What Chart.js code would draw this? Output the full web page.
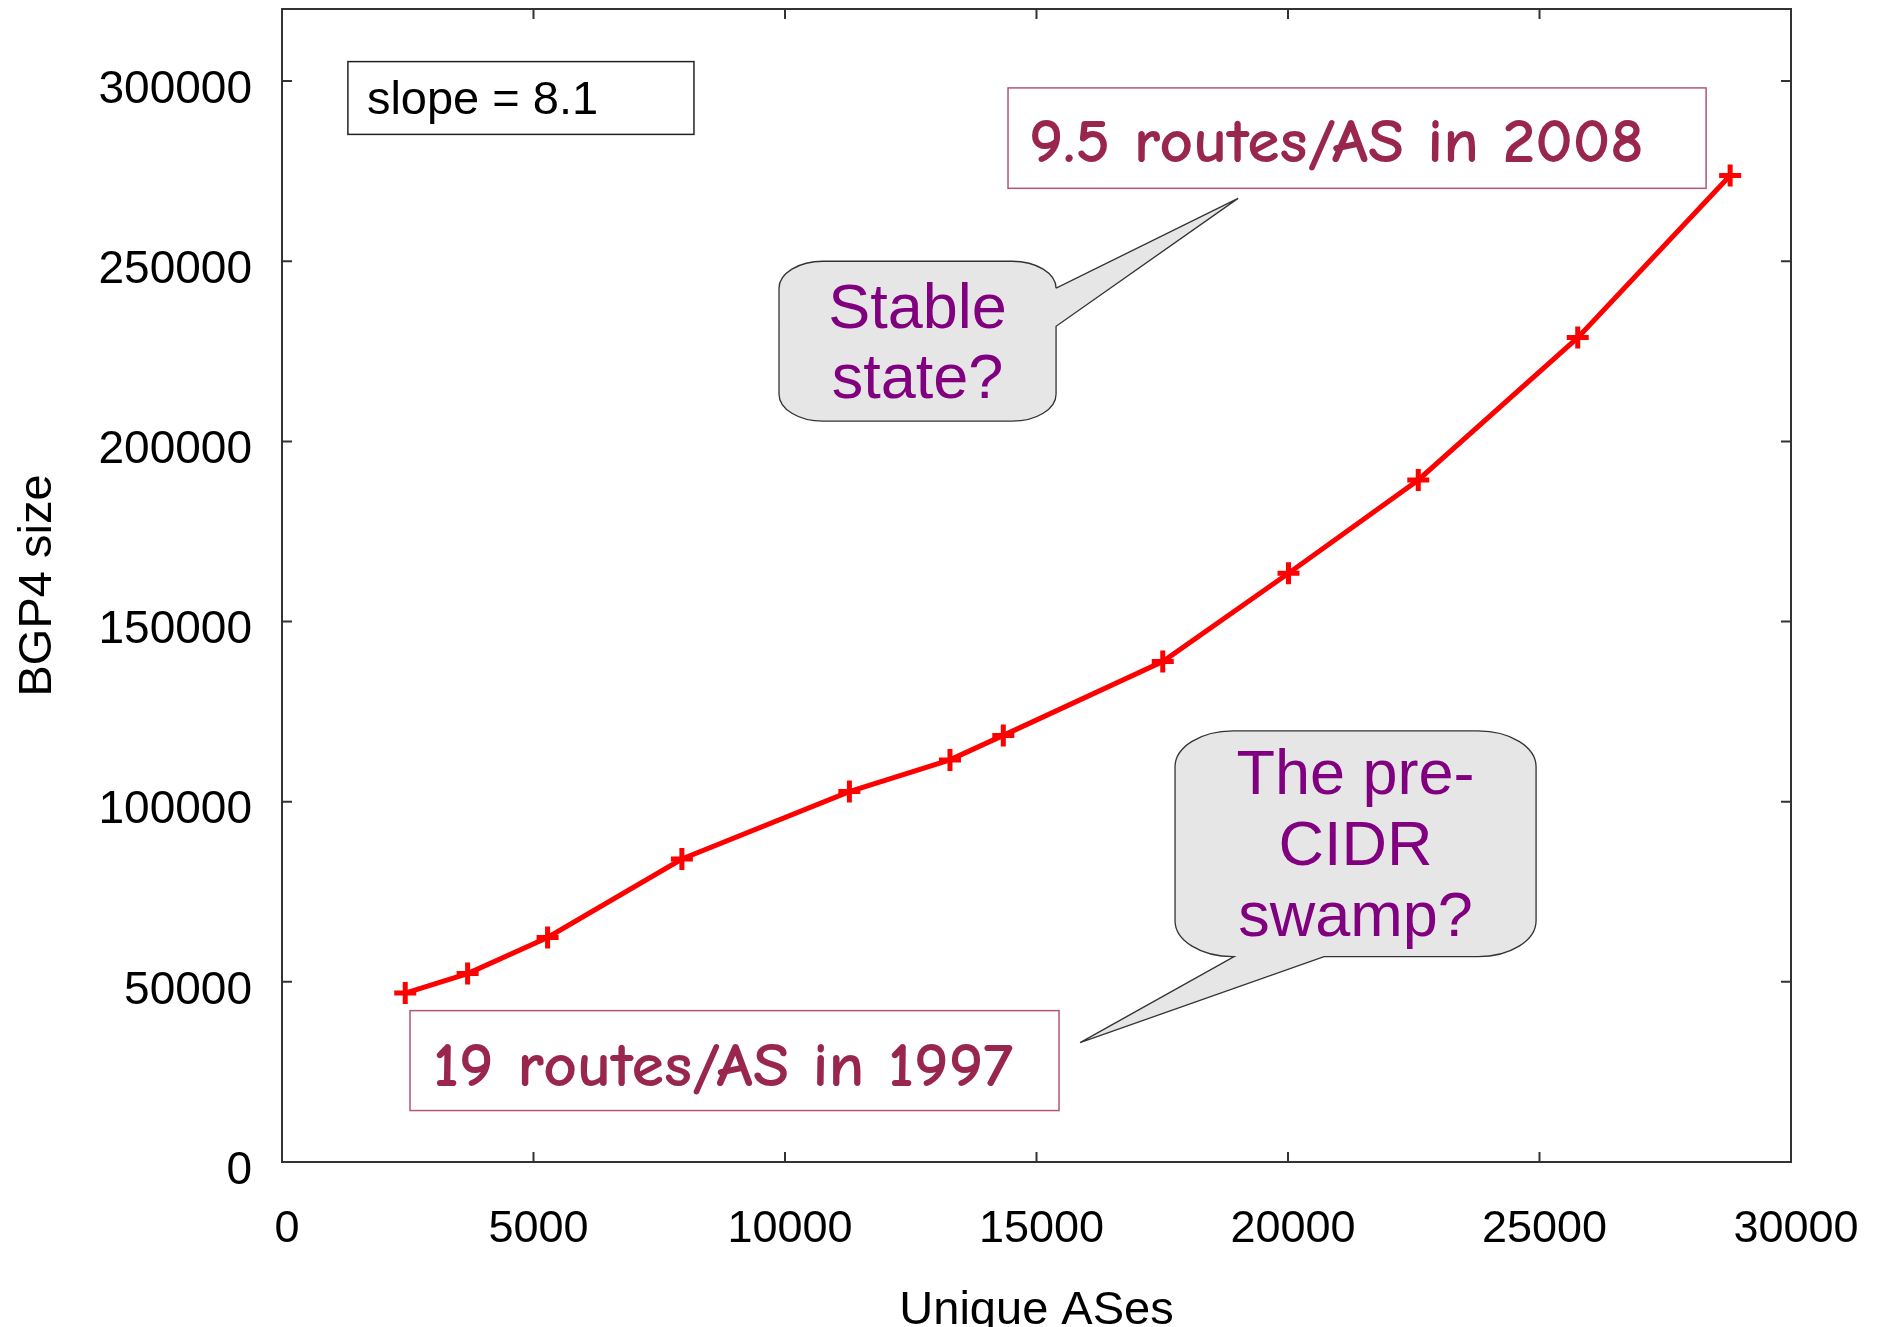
<!DOCTYPE html>
<html>
<head>
<meta charset="utf-8">
<title>BGP4 size vs Unique ASes</title>
<script src="https://cdn.jsdelivr.net/npm/chart.js@4.4.1/dist/chart.umd.min.js"></script>
<style>
  html, body { margin: 0; padding: 0; background: #fff; }
  #wrap { width: 1880px; height: 1327px; }
</style>
</head>
<body>
<div id="wrap"><canvas id="chart" width="1880" height="1327"></canvas></div>
<script>
// ================================
// DATA
// ================================
const uniqueASes = [2450, 3690, 5280, 7950, 11280, 13280, 14340, 17510, 20010, 22590, 25760, 28790];
const bgpSize = [46900, 52300, 62300, 84100, 102800, 111600, 118400, 138900, 163400, 189300, 228800, 273800];
const xTicks = [0, 5000, 10000, 15000, 20000, 25000, 30000];
const yTicks = [0, 50000, 100000, 150000, 200000, 250000, 300000];
const xTitle = 'Unique ASes';
const yTitle = 'BGP4 size';
const slopeText = 'slope = 8.1';
const noteLate = '9.5 routes/AS in 2008';
const noteEarly = '19 routes/AS in 1997';
const bubbleStable = ['Stable', 'state?'];
const bubbleSwamp = ['The pre-', 'CIDR', 'swamp?'];

// ================================
// STYLE
// ================================
const SANS = '"Liberation Sans", Arial, sans-serif';
const COMIC = '"Comic Sans MS", "Comic Neue", "Open Sans", sans-serif';
const FRAME = '#333333';
const NOTE_RED = '#99264d';
const PURPLE = '#800080';

// boxes are placed in data units so they follow the axes
const boxes = [
  { text: slopeText, x0: 1310, x1: 8190, y0: 285200, y1: 305400,
    stroke: '#222', lineWidth: 1.5, color: '#000', font: `47px ${SANS}`, padX: 19, padBottom: 20 },
  { text: noteLate, x0: 14434, x1: 28312, y0: 270230, y1: 298100,
    stroke: '#b25577', lineWidth: 1.5, color: NOTE_RED, font: `600 62px ${COMIC}`, padX: 21, padBottom: 26, textWidth: 615 },
  { text: noteEarly, x0: 2545, x1: 15448, y0: 14280, y1: 42010,
    stroke: '#b25577', lineWidth: 1.5, color: NOTE_RED, font: `600 62px ${COMIC}`, padX: 23, padBottom: 25, textWidth: 580 }
];

const callouts = [
  { lines: bubbleStable, x0: 9881, x1: 15389, y0: 205620, y1: 249990, rx: 44, ry: 27,
    side: 'right', base: [242500, 231960], tip: [19007, 267450], baselines: [67, 137] },
  { lines: bubbleSwamp, x0: 17754, x1: 24932, y0: 56985, y1: 119655, rx: 58, ry: 36,
    side: 'bottom', base: [18928, 20717], tip: [15866, 33140], baselines: [63, 134, 205] }
];

// ================================
// PLUGINS
// ================================
const framePlugin = {
  id: 'frame',
  beforeDatasetsDraw(chart) {
    const { ctx, chartArea: a, scales } = chart;
    ctx.save();
    ctx.strokeStyle = FRAME;
    ctx.lineWidth = 2;
    ctx.strokeRect(a.left, a.top, a.right - a.left, a.bottom - a.top);
    ctx.beginPath();
    xTicks.forEach(v => {
      const px = scales.x.getPixelForValue(v);
      ctx.moveTo(px, a.bottom); ctx.lineTo(px, a.bottom - 10);
      ctx.moveTo(px, a.top); ctx.lineTo(px, a.top + 10);
    });
    yTicks.forEach(v => {
      const py = scales.y.getPixelForValue(v);
      ctx.moveTo(a.left, py); ctx.lineTo(a.left + 10, py);
      ctx.moveTo(a.right, py); ctx.lineTo(a.right - 10, py);
    });
    ctx.stroke();
    ctx.restore();
  }
};

function drawBox(ctx, sx, sy, b) {
  const l = sx.getPixelForValue(b.x0), r = sx.getPixelForValue(b.x1);
  const t = sy.getPixelForValue(b.y1), bt = sy.getPixelForValue(b.y0);
  ctx.fillStyle = '#fff';
  ctx.fillRect(l, t, r - l, bt - t);
  ctx.strokeStyle = b.stroke;
  ctx.lineWidth = b.lineWidth;
  ctx.strokeRect(l, t, r - l, bt - t);

  ctx.save();
  ctx.font = b.font;
  ctx.fillStyle = b.color;
  ctx.textAlign = 'left';
  ctx.textBaseline = 'alphabetic';
  ctx.translate(l + b.padX, bt - b.padBottom);
  if (b.textWidth) ctx.scale(b.textWidth / ctx.measureText(b.text).width, 1);
  ctx.fillText(b.text, 0, 0);
  ctx.restore();
}

function drawCallout(ctx, sx, sy, c) {
  const l = sx.getPixelForValue(c.x0), r = sx.getPixelForValue(c.x1);
  const t = sy.getPixelForValue(c.y1), b = sy.getPixelForValue(c.y0);
  const tx = sx.getPixelForValue(c.tip[0]), ty = sy.getPixelForValue(c.tip[1]);
  const { rx, ry } = c;
  const H = Math.PI / 2;

  ctx.beginPath();
  ctx.moveTo(l + rx, t);
  ctx.lineTo(r - rx, t);
  ctx.ellipse(r - rx, t + ry, rx, ry, 0, -H, 0);
  if (c.side === 'right') {
    ctx.lineTo(r, sy.getPixelForValue(c.base[0]));
    ctx.lineTo(tx, ty);
    ctx.lineTo(r, sy.getPixelForValue(c.base[1]));
  }
  ctx.lineTo(r, b - ry);
  ctx.ellipse(r - rx, b - ry, rx, ry, 0, 0, H);
  if (c.side === 'bottom') {
    ctx.lineTo(sx.getPixelForValue(c.base[1]), b);
    ctx.lineTo(tx, ty);
    ctx.lineTo(sx.getPixelForValue(c.base[0]), b);
  }
  ctx.lineTo(l + rx, b);
  ctx.ellipse(l + rx, b - ry, rx, ry, 0, H, 2 * H);
  ctx.lineTo(l, t + ry);
  ctx.ellipse(l + rx, t + ry, rx, ry, 0, 2 * H, 3 * H);
  ctx.closePath();
  ctx.fillStyle = '#e6e6e6';
  ctx.fill();
  ctx.strokeStyle = '#333';
  ctx.lineWidth = 1.3;
  ctx.stroke();

  ctx.font = `63px ${SANS}`;
  ctx.fillStyle = PURPLE;
  ctx.textAlign = 'center';
  ctx.textBaseline = 'alphabetic';
  c.lines.forEach((line, i) => ctx.fillText(line, (l + r) / 2, t + c.baselines[i]));
}

const notesPlugin = {
  id: 'notes',
  afterDraw(chart) {
    const { ctx, scales } = chart;
    ctx.save();
    boxes.forEach(b => drawBox(ctx, scales.x, scales.y, b));
    callouts.forEach(c => drawCallout(ctx, scales.x, scales.y, c));
    ctx.restore();
  }
};

const whiteBg = {
  id: 'whiteBg',
  beforeDraw(chart) {
    const { ctx, width, height } = chart;
    ctx.save();
    ctx.fillStyle = '#fff';
    ctx.fillRect(0, 0, width, height);
    ctx.restore();
  }
};

// fixed axis sizes, no extra label padding around the plot
function fixSize(prop, size) {
  return s => {
    s[prop] = size;
    s.paddingTop = 0; s.paddingBottom = 0;
    s.paddingLeft = 0; s.paddingRight = 0;
  };
}

// ================================
// CHART
// ================================
new Chart(document.getElementById('chart'), {
  type: 'line',
  data: {
    datasets: [{
      data: uniqueASes.map((x, i) => ({ x, y: bgpSize[i] })),
      borderColor: '#ff0000',
      backgroundColor: '#ff0000',
      borderWidth: 5,
      pointStyle: 'cross',
      pointRadius: 11,
      pointBorderWidth: 5,
      pointBorderColor: '#ff0000',
      tension: 0,
      fill: false
    }]
  },
  options: {
    responsive: false,
    animation: false,
    devicePixelRatio: 1,
    layout: { autoPadding: false, padding: { top: 9, right: 89, left: 0, bottom: 0 } },
    plugins: { legend: { display: false }, tooltip: { enabled: false } },
    scales: {
      x: {
        type: 'linear',
        min: 0,
        max: 30000,
        afterBuildTicks: s => { s.ticks = xTicks.map(v => ({ value: v })); },
        afterFit: fixSize('height', 165),
        grid: { display: false, drawTicks: false },
        border: { display: false },
        ticks: {
          padding: 41, labelOffset: 5, color: '#000', autoSkip: false, maxRotation: 0,
          font: { family: SANS, size: 45 },
          callback: v => String(v)
        },
        title: {
          display: true, text: xTitle, color: '#000', padding: 0,
          font: { family: SANS, size: 47, lineHeight: 0.7 }
        }
      },
      y: {
        type: 'linear',
        min: 0,
        max: 320000,
        afterBuildTicks: s => { s.ticks = yTicks.map(v => ({ value: v })); },
        afterFit: fixSize('width', 282),
        grid: { display: false, drawTicks: false },
        border: { display: false },
        ticks: {
          padding: 30, labelOffset: 9, color: '#000', autoSkip: false,
          font: { family: SANS, size: 46 },
          callback: v => String(v)
        },
        title: {
          display: true, text: yTitle, color: '#000', padding: { top: 10, bottom: 0 },
          font: { family: SANS, size: 47 }
        }
      }
    }
  },
  plugins: [whiteBg, framePlugin, notesPlugin]
});
</script>
</body>
</html>
